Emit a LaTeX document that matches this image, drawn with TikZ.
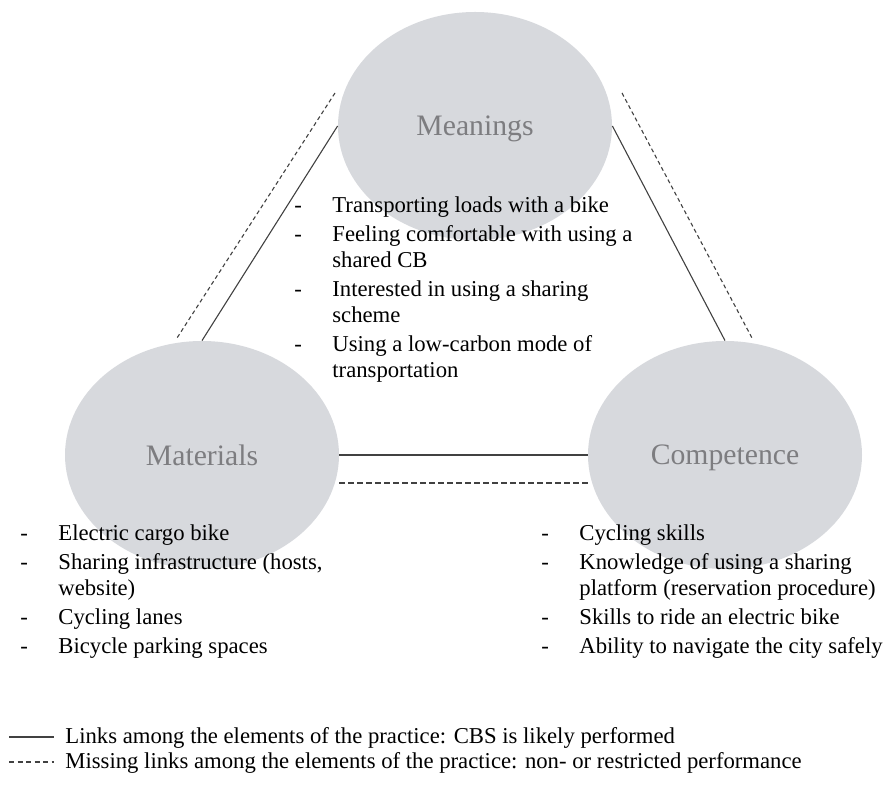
\documentclass[tikz,border=0pt]{standalone}
\usepackage{fontspec}
\setmainfont{Liberation Serif}
\usepackage{array}
\usetikzlibrary{shapes.geometric}

\definecolor{elemfill}{RGB}{215,217,221}
\definecolor{elemlabel}{RGB}{125,125,128}
\definecolor{linkline}{RGB}{65,65,65}

% dash column + text column
\newcommand{\itemtab}[1]{\begin{tabular}[t]{@{}p{19pt}@{}l@{}}#1\end{tabular}}

\begin{document}
\begin{tikzpicture}[x=0.5pt,y=-0.5pt,
    practice/.style={ellipse, fill=elemfill, minimum width=137pt, minimum height=114pt,
        inner sep=0pt, text depth=0pt, text=elemlabel, font=\fontsize{14.85}{17}\selectfont},
    itemlist/.style={anchor=base west, inner sep=0pt, font=\fontsize{11.35}{13}\selectfont},
    link/.style={linkline, line width=0.55pt},
    nolink/.style={linkline, line width=0.55pt, dash pattern=on 2pt off 1.5pt}]
    \useasboundingbox (0,0) rectangle (889,785);

    % Elements
    \node[practice] (meanings) at (475,126) {Meanings};
    \node[practice] (materials) at (202,455) {Materials};
    \node[practice] (competence) at (725,455) {Competence};

    % Links
    \draw[link] (meanings.west) -- (materials.north);
    \draw[link] (meanings.east) -- (competence.north);
    \draw[link] (materials.east) -- (competence.west);

    % Missing links
    \coordinate (nlA) at (335,93);
    \coordinate (nlB) at (177,338);
    \coordinate (nlC) at (622,93);
    \coordinate (nlD) at (752,338);
    \draw[nolink] (nlA) -- (nlB);
    \draw[nolink] (nlC) -- (nlD);
    \draw[nolink, dash pattern=on 2.75pt off 1.75pt] ([yshift=-14pt]materials.east) -- ([yshift=-14pt]competence.west);

    % Lists
    \node[itemlist] (meaningslist) at (294,213) {\itemtab{
        - & Transporting loads with a bike\\[1.5pt]
        - & Feeling comfortable with using a\\
          & shared CB\\[1.5pt]
        - & Interested in using a sharing\\
          & scheme\\[1.5pt]
        - & Using a low-carbon mode of\\
          & transportation}};
    \node[itemlist] (materialslist) at (20,541) {\itemtab{
        - & Electric cargo bike\\[1.5pt]
        - & Sharing infrastructure (hosts,\\
          & website)\\[1.5pt]
        - & Cycling lanes\\[1.5pt]
        - & Bicycle parking spaces}};
    \node[itemlist] (competencelist) at (541,541) {\itemtab{
        - & Cycling skills\\[1.5pt]
        - & Knowledge of using a sharing\\
          & platform (reservation procedure)\\[1.5pt]
        - & Skills to ride an electric bike\\[1.5pt]
        - & Ability to navigate the city safely}};

    % Legend
    \coordinate (keyA) at (9,737);
    \coordinate (keyB) at (54,737);
    \coordinate (keyC) at (9,762);
    \coordinate (keyD) at (54,762);
    \draw[link] (keyA) -- (keyB);
    \draw[nolink, dash pattern=on 2.5pt off 1.75pt] (keyC) -- (keyD);
    \node[itemlist] (keylink) at (65,743) {Links among the elements of the practice: CBS is likely performed};
    \node[itemlist] (keynolink) at (65,768) {Missing links among the elements of the practice: non- or restricted performance};
\end{tikzpicture}
\end{document}
